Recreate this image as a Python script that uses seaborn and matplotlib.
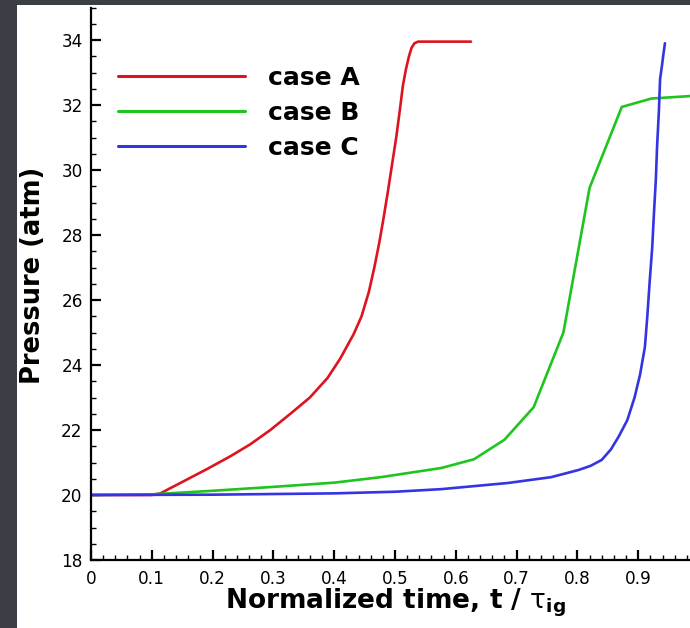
import numpy as np
import pandas as pd
import matplotlib
matplotlib.use("Agg")
import matplotlib.pyplot as plt
from matplotlib.patches import Rectangle
from matplotlib.ticker import MultipleLocator, FuncFormatter
import seaborn as sns

# Pressure histories vs. normalized time for the three cases
time_a = [0.0, 0.10, 0.114, 0.15, 0.191, 0.23, 0.262, 0.295, 0.328, 0.36,
          0.389, 0.41, 0.432, 0.445, 0.457, 0.466, 0.474, 0.481, 0.488, 0.495,
          0.502, 0.508, 0.513, 0.518, 0.523, 0.527, 0.532, 0.538, 0.625]
pres_a = [20.0, 20.0, 20.05, 20.4, 20.8, 21.2, 21.56, 22.0, 22.5, 23.0,
          23.6, 24.2, 24.95, 25.5, 26.25, 27.0, 27.75, 28.5, 29.3, 30.15,
          31.0, 31.85, 32.6, 33.1, 33.5, 33.75, 33.9, 33.95, 33.95]

time_b = [0.0, 0.10, 0.20, 0.30, 0.40, 0.477, 0.576, 0.630, 0.680, 0.728,
          0.777, 0.820, 0.873, 0.922, 0.990]
pres_b = [20.0, 20.02, 20.13, 20.25, 20.38, 20.55, 20.83, 21.1, 21.7, 22.7,
          25.0, 29.45, 31.94, 32.2, 32.28]

time_c = [0.0, 0.20, 0.40, 0.50, 0.576, 0.686, 0.757, 0.802, 0.822, 0.840,
          0.855, 0.868, 0.882, 0.894, 0.903, 0.911, 0.915, 0.919, 0.923,
          0.926, 0.929, 0.931, 0.934, 0.936, 0.939, 0.941, 0.944]
pres_c = [20.0, 20.01, 20.05, 20.1, 20.18, 20.37, 20.55, 20.77, 20.9, 21.08,
          21.4, 21.8, 22.3, 23.0, 23.7, 24.55, 25.5, 26.6, 27.6,
          28.7, 29.7, 30.7, 31.8, 32.8, 33.2, 33.5, 33.9]

case_names = ["case A", "case B", "case C"]
case_colors = ["#dd1420", "#1fc41f", "#3434e2"]

frames = []
for name, t, p in zip(case_names, [time_a, time_b, time_c], [pres_a, pres_b, pres_c]):
    frames.append(pd.DataFrame({"time": t, "pressure": p, "case": name}))
df = pd.concat(frames, ignore_index=True)

sns.set_theme(style="white")
plt.rcParams["font.family"] = ["DejaVu Sans"]
plt.rcParams["mathtext.fontset"] = "dejavusans"
plt.rcParams["text.color"] = "black"
plt.rcParams["axes.labelcolor"] = "black"

fig = plt.figure(figsize=(6.9, 6.28), dpi=100)
fig.patch.set_facecolor("#3b3e44")
# white slide panel behind the plot
fig.patches.append(Rectangle((17 / 690, 0), 1 - 17 / 690, 1 - 5 / 628,
                             transform=fig.transFigure, facecolor="white",
                             edgecolor="none", zorder=-10))

ax = fig.add_axes([91 / 690, (628 - 560) / 628, 608 / 690, 552.5 / 628])
ax.set_facecolor("white")
ax.set_zorder(5)

sns.lineplot(data=df, x="time", y="pressure", hue="case", palette=case_colors,
             sort=False, estimator=None, linewidth=1.9, ax=ax)

ax.set_xlim(0, 1.0)
ax.set_ylim(18, 35)
ax.xaxis.set_major_locator(MultipleLocator(0.1))
ax.xaxis.set_minor_locator(MultipleLocator(0.02))
ax.yaxis.set_major_locator(MultipleLocator(2))
ax.yaxis.set_minor_locator(MultipleLocator(0.5))


def time_label(v, _):
    if abs(v) < 1e-9:
        return "0"
    if v > 0.95:
        return ""
    return f"{v:.1f}"


ax.xaxis.set_major_formatter(FuncFormatter(time_label))
ax.yaxis.set_major_formatter(FuncFormatter(lambda v, _: f"{v:.0f}"))

for side in ["top", "right"]:
    ax.spines[side].set_visible(False)
for side in ["left", "bottom"]:
    ax.spines[side].set_linewidth(1.6)
    ax.spines[side].set_color("black")

ax.tick_params(axis="both", which="major", direction="in", length=7.5, width=1.6,
               labelsize=12.2, colors="black", labelcolor="black")
ax.tick_params(axis="both", which="minor", direction="in", length=3.8, width=1.0,
               colors="black")
ax.tick_params(axis="y", which="both", left=True, pad=6)
ax.tick_params(axis="x", which="both", bottom=True, pad=7)

ax.set_xlabel(r"Normalized time, t / $\mathrm{\tau}_{\mathbf{ig}}$", fontsize=19,
              fontweight="bold", labelpad=-1)
ax.set_ylabel("Pressure (atm)", fontsize=18.5, fontweight="bold")
ax.yaxis.set_label_coords(-0.074, 0.515)

leg = ax.legend(loc="upper left", bbox_to_anchor=(0.044, 0.894), frameon=False,
                fontsize=18, handlelength=5.1, handletextpad=0.9,
                labelspacing=0.44, borderpad=0, borderaxespad=0)
for txt in leg.get_texts():
    txt.set_fontweight("bold")
    txt.set_color("black")
for line in leg.get_lines():
    line.set_linewidth(2.2)

fig.savefig("out.png", dpi=100, facecolor=fig.get_facecolor())
